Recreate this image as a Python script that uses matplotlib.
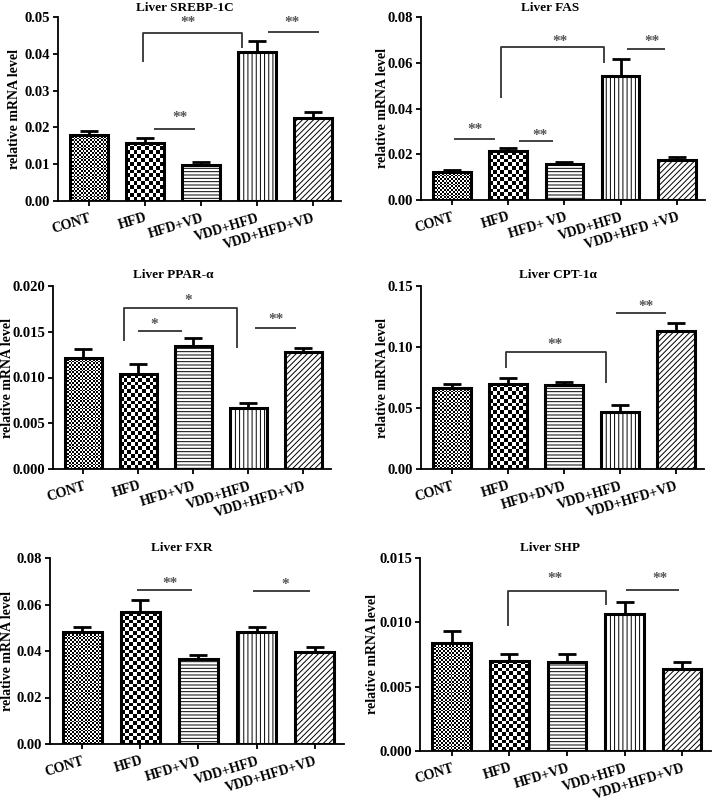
import matplotlib
matplotlib.use('Agg')
import matplotlib.pyplot as plt
import numpy as np

plt.rcParams['font.family'] = ['Liberation Serif', 'DejaVu Serif']
plt.rcParams['font.weight'] = 'bold'
plt.rcParams['hatch.linewidth'] = 0.7

# group labels (a few panels spell them a little differently)
groups = ['CONT', 'HFD', 'HFD+VD', 'VDD+HFD', 'VDD+HFD+VD']
groups_fas = ['CONT', 'HFD', 'HFD+ VD', 'VDD+HFD', 'VDD+HFD +VD']
groups_cpt = ['CONT', 'HFD', 'HFD+DVD', 'VDD+HFD', 'VDD+HFD+VD']

# means and upper error (SEM)
srebp_mean = [0.0180, 0.0158, 0.0098, 0.0406, 0.0226]
srebp_err = [0.0009, 0.0012, 0.0007, 0.0030, 0.0016]
fas_mean = [0.0124, 0.0214, 0.0157, 0.0541, 0.0175]
fas_err = [0.0007, 0.0014, 0.0007, 0.0074, 0.0011]
ppar_mean = [0.01218, 0.01036, 0.01349, 0.00665, 0.01276]
ppar_err = [0.0009, 0.0011, 0.0008, 0.00055, 0.00044]
cpt_mean = [0.0668, 0.0698, 0.0690, 0.0469, 0.1134]
cpt_err = [0.0028, 0.0049, 0.0022, 0.0057, 0.0066]
fxr_mean = [0.0480, 0.0566, 0.0366, 0.0480, 0.0394]
fxr_err = [0.0022, 0.0054, 0.0018, 0.0022, 0.0023]
shp_mean = [0.00838, 0.0070, 0.0069, 0.01067, 0.00636]
shp_err = [0.00096, 0.00053, 0.00063, 0.00091, 0.00059]

# significance marks: (x0, x1, y, left leg end, right leg end, text, text x, text y)
srebp_sig = [(0.96, 2.73, 0.0457, 0.0379, 0.0417, '**', 1.77, 0.0484),
             (3.20, 4.11, 0.0458, None, None, '**', 3.63, 0.0484),
             (1.16, 1.90, 0.0197, None, None, '**', 1.63, 0.0227)]
fas_sig = [(0.87, 2.70, 0.0669, 0.0447, 0.0597, '**', 1.92, 0.0691),
           (3.12, 3.78, 0.0662, None, None, '**', 3.55, 0.0691),
           (0.04, 0.76, 0.0265, None, None, '**', 0.41, 0.0308),
           (1.19, 1.80, 0.0257, None, None, '**', 1.56, 0.0284)]
ppar_sig = [(0.74, 2.80, 0.01756, 0.0140, 0.01327, '*', 1.90, 0.0184),
            (0.99, 1.79, 0.01512, None, None, '*', 1.29, 0.0158),
            (3.12, 3.87, 0.01538, None, None, '**', 3.50, 0.0163)]
cpt_sig = [(0.96, 2.76, 0.096, 0.0826, 0.0704, '**', 1.84, 0.1017),
           (2.93, 3.83, 0.128, None, None, '**', 3.47, 0.133)]
fxr_sig = [(0.94, 1.89, 0.0661, None, None, '**', 1.51, 0.0692),
           (2.93, 3.92, 0.0656, None, None, '*', 3.49, 0.0686)]
shp_sig = [(0.98, 2.67, 0.0124, 0.00968, 0.01137, '**', 1.80, 0.01337),
           (3.03, 3.94, 0.01253, None, None, '**', 3.62, 0.01337)]

W, H = 716, 800
fig = plt.figure(figsize=(W / 100, H / 100), dpi=100)


def checker(ax, bar, sq):
    # checkerboard fill clipped to a bar, square size in pixels
    x0, w, h = bar.get_x(), bar.get_width(), bar.get_height()
    (px0, py0), (px1, py1) = ax.transData.transform([(x0, 0), (x0 + w, h)])
    nx = max(1, int(round((px1 - px0) / sq)))
    ny = max(1, int(round((py1 - py0) / sq)))
    img = np.add.outer(np.arange(ny), np.arange(nx)) % 2
    ax.imshow(img, cmap='gray', vmin=0, vmax=1, extent=(x0, x0 + w, 0, h),
              aspect='auto', interpolation='nearest', zorder=1.5)


def panel(box, title, title_xy, ylab_x, labels, mean, err, ymax, step, fmt, sig):
    L, R, T, B = box
    ax = fig.add_axes([L / W, 1 - B / H, (R - L) / W, (B - T) / H])
    ax.set_xlim(-0.55, 4.5)
    ax.set_ylim(0, ymax)
    x = np.arange(len(mean))
    bars = ax.bar(x, mean, width=0.67, color='white', edgecolor='black',
                  linewidth=2.2, zorder=2)
    hatches = [None, None, '-----', '||||', '//////']
    for b, hc in zip(bars, hatches):
        if hc:
            b.set_hatch(hc)
        else:
            b.set_facecolor('none')
    checker(ax, bars[0], 1.8)
    checker(ax, bars[1], 3.8)
    ax.errorbar(x, mean, yerr=[np.zeros(len(err)), err], fmt='none',
                ecolor='black', elinewidth=2.0, capsize=6.5, capthick=2.0, zorder=1)

    for x0, x1, y, yl, yr, txt, tx, ty in sig:
        xs, ys = [x0, x1], [y, y]
        if yl is not None:
            xs = [x0, x0, x1, x1]
            ys = [yl, y, y, yr]
        ax.plot(xs, ys, color='#333333', lw=1.3, solid_capstyle='butt', zorder=3)
        ax.text(tx, ty, txt, ha='center', va='center', fontsize=11,
                color='#555555', zorder=3)

    for s in ['top', 'right']:
        ax.spines[s].set_visible(False)
    for s in ['left', 'bottom']:
        ax.spines[s].set_linewidth(1.3)
    ticks = np.arange(0, ymax + step / 2, step)
    ax.set_yticks(ticks)
    ax.set_yticklabels([fmt % v for v in ticks], fontsize=10.5, fontweight='bold')
    ax.set_xticks(x)
    ax.set_xticklabels(labels, rotation=17, ha='right', rotation_mode='anchor',
                       fontsize=10, fontweight='bold')
    ax.tick_params(width=1.3, length=3.5, pad=2)
    ax.tick_params(axis='x', pad=4)

    fig.text(title_xy[0] / W, 1 - title_xy[1] / H, title, ha='center', va='center',
             fontsize=9.5, fontweight='bold')
    fig.text(ylab_x / W, 1 - (T + B) / 2 / H, 'relative mRNA level', rotation=90,
             ha='center', va='center', fontsize=10, fontweight='bold')


panel((58, 341, 17, 201), 'Liver SREBP-1C', (185, 8), 15, groups,
      srebp_mean, srebp_err, 0.05, 0.01, '%.2f', srebp_sig)
panel((421, 705, 17, 200), 'Liver FAS', (550, 8), 383, groups_fas,
      fas_mean, fas_err, 0.08, 0.02, '%.2f', fas_sig)
panel((53, 331, 286, 469), 'Liver PPAR-α', (173, 275), 8, groups,
      ppar_mean, ppar_err, 0.020, 0.005, '%.3f', ppar_sig)
panel((421, 704, 286, 469), 'Liver CPT-1α', (558, 275), 383, groups_cpt,
      cpt_mean, cpt_err, 0.15, 0.05, '%.2f', cpt_sig)
panel((50, 344, 558, 744), 'Liver FXR', (182, 548), 8, groups,
      fxr_mean, fxr_err, 0.08, 0.02, '%.2f', fxr_sig)
panel((420, 711, 558, 751), 'Liver SHP', (550, 548), 373, groups,
      shp_mean, shp_err, 0.015, 0.005, '%.3f', shp_sig)

fig.savefig('out.png', dpi=100)
